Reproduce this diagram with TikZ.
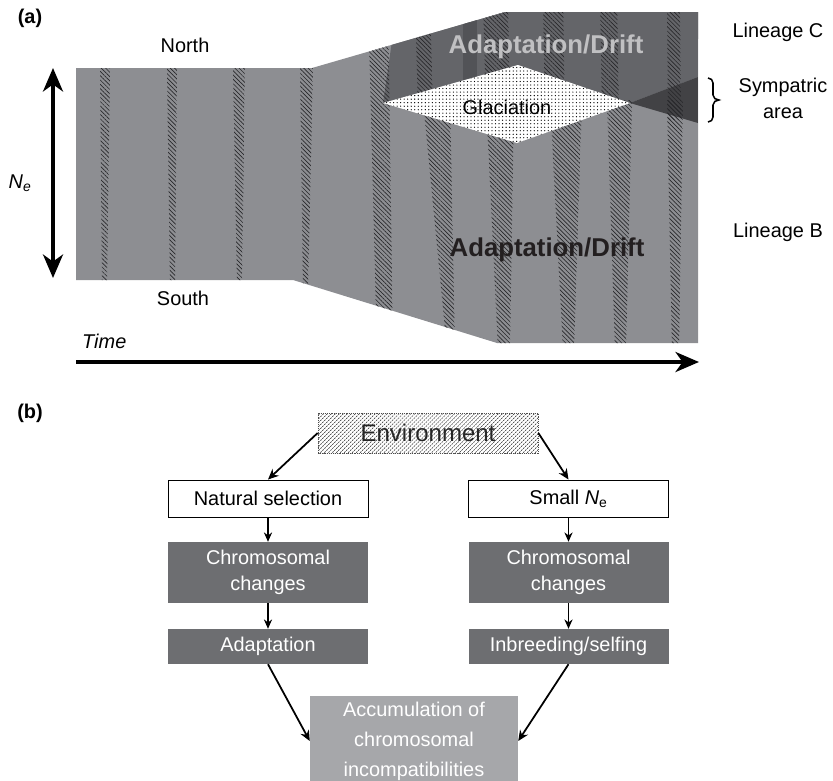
\documentclass[tikz,border=0pt]{standalone}
\usepackage{fontspec}
\setmainfont{Liberation Sans}
\usetikzlibrary{arrows.meta,patterns.meta}
\definecolor{bodygrey}{RGB}{141,142,146}
\definecolor{cgrey}{RGB}{100,101,105}
\definecolor{bandgrey}{RGB}{82,83,87}
\definecolor{wedgegrey}{RGB}{66,66,69}
\definecolor{hatchgrey}{RGB}{40,40,43}
\definecolor{boxgrey}{RGB}{109,110,113}
\definecolor{accgrey}{RGB}{166,167,170}
\definecolor{paletext}{RGB}{192,192,194}
\definecolor{inktext}{RGB}{35,31,32}
\begin{document}
\begin{tikzpicture}[x=0.03cm,y=-0.03cm,
	every node/.style={font=\fontsize{17}{22}\selectfont,inner sep=0pt},
	panel/.style={font=\fontsize{17}{22}\selectfont\bfseries},
	drift/.style={font=\fontsize{22}{26}\selectfont\bfseries},
	stripe/.style={pattern={Lines[angle=-45,distance=2.6pt,line width=0.55pt]},pattern color=hatchgrey},
	plainbox/.style={draw,fill=white,line width=0.8pt,minimum width=6cm,minimum height=1.11cm},
	darkbox/.style={fill=boxgrey,text=white,minimum width=6cm,align=center},
	link/.style={line width=1.5pt,-{Stealth[length=9pt,width=8pt]}},
	shortlink/.style={line width=1pt,-{Stealth[length=8pt,width=7pt]}},
	bigarrow/.style={line width=3.4pt}]
\useasboundingbox (0,0) rectangle (833,781);

% (a) populations through time
\fill[bodygrey] (76,68) -- (312,68) -- (505,12) -- (698,12) -- (698,343)
	-- (497,343) -- (293,280) -- (76,280) -- cycle;
\begin{scope}
\clip (76,68) -- (312,68) -- (505,12) -- (698,12) -- (698,343)
	-- (497,343) -- (293,280) -- (76,280) -- cycle;
\fill[cgrey] (398,0) -- (700,0) -- (698,77) -- (630,103) -- (518,65)
	-- (383,103) -- cycle;
\fill[wedgegrey] (630,103) -- (698,77) -- (698,123) -- cycle;
\fill[bandgrey] (463,0) -- (477,0) -- (477,95) -- (463,95) -- cycle;
\foreach \a/\b/\c/\d/\t/\u in {100/110/107/102/68/285, 167/177/175/170/68/285,
	233/245/242/237/68/285, 300/313/308/303/68/290, 368/388/393/377/0/350,
	415/430/433/418/0/110, 483/508/510/486/0/110, 543/563/565/545/0/110,
	600/617/619/602/0/110, 667/680/681/668/0/120,
	423/450/455/447/100/350, 486/514/510/498/100/350, 550/582/574/563/100/350,
	607/632/626/615/100/350, 667/683/679/672/100/350}
	\fill[stripe] (\a,\t) -- (\b,\t) -- (\c,\u) -- (\d,\u) -- cycle;
\end{scope}
\fill[white] (383,103) -- (518,65) -- (630,103) -- (517,143) -- cycle;
\fill[pattern={Dots[distance=3pt,radius=0.55pt]},pattern color=black]
	(383,103) -- (518,65) -- (630,103) -- (517,143) -- cycle;
\draw[line width=1.3pt] (708,78) to[out=0,in=90] (713,83) -- (713,95)
	to[out=-90,in=180] (719,100) to[out=180,in=90] (713,105) -- (713,117)
	to[out=-90,in=0] (708,122);

\node[panel] (pa) at (30,18) {(a)};
\node (north) at (185,45) {North};
\node (south) at (183,298) {South};
\node[anchor=west] (time) at (82,341) {\textit{Time}};
\node (ne) at (20,183) {\textit{N}\textsubscript{\textit{e}}};
\node (glac) at (507,107) {Glaciation};
\node[drift,text=paletext] (driftc) at (546,47) {Adaptation/Drift};
\node[drift,text=inktext] (driftb) at (547,250) {Adaptation/Drift};
\node (linc) at (778,32) {Lineage C};
\node[align=center] (symp) at (783,98) {Sympatric\\area};
\node (linb) at (778,232) {Lineage B};

\coordinate (ntop) at (53,68);
\coordinate (nbot) at (53,278);
\coordinate (tstart) at (76,362);
\coordinate (tend) at (699,362);
\draw[bigarrow,{Stealth[length=20pt,width=17pt,inset=6pt]}-{Stealth[length=20pt,width=17pt,inset=6pt]}] (ntop) -- (nbot);
\draw[bigarrow,-{Stealth[length=20pt,width=17pt,inset=6pt]}] (tstart) -- (tend);

% (b) causes of chromosomal divergence
\node[panel] (pb) at (30,413) {(b)};
\node[minimum width=6.6cm,minimum height=1.2cm,
	pattern={Lines[angle=45,distance=2.4pt,line width=0.6pt]},pattern color=black!80,
	draw=black!70,densely dotted,font=\fontsize{20.5}{24}\selectfont,text=black!85]
	(env) at (428,433) {Environment};
\node[plainbox] (natsel) at (268,498.5) {Natural selection};
\node[plainbox] (smallne) at (568.5,498.5) {Small \textit{N}\textsubscript{e}};
\node[darkbox,minimum height=1.83cm] (chromL) at (268,572.5) {Chromosomal\\changes};
\node[darkbox,minimum height=1.83cm] (chromR) at (568.5,572.5) {Chromosomal\\changes};
\node[darkbox,minimum height=1.05cm] (adapt) at (268,646.5) {Adaptation};
\node[darkbox,minimum height=1.05cm] (inbreed) at (568.5,646.5) {Inbreeding/selfing};
\node[fill=accgrey,text=white,minimum width=6.24cm,minimum height=2.7cm,align=center,
	font=\fontsize{17}{25.5}\selectfont] (accum) at (414,741) {Accumulation of\\chromosomal\\incompatibilities};

\draw[link] (env.west) -- (natsel.north);
\draw[link] (env.east) -- (smallne.north);
\draw[shortlink] (natsel) -- (chromL);
\draw[shortlink] (chromL) -- (adapt);
\draw[shortlink] (smallne) -- (chromR);
\draw[shortlink] (chromR) -- (inbreed);
\draw[link] (adapt.south) -- (accum.west);
\draw[link] (inbreed.south) -- (accum.east);
\end{tikzpicture}
\end{document}
